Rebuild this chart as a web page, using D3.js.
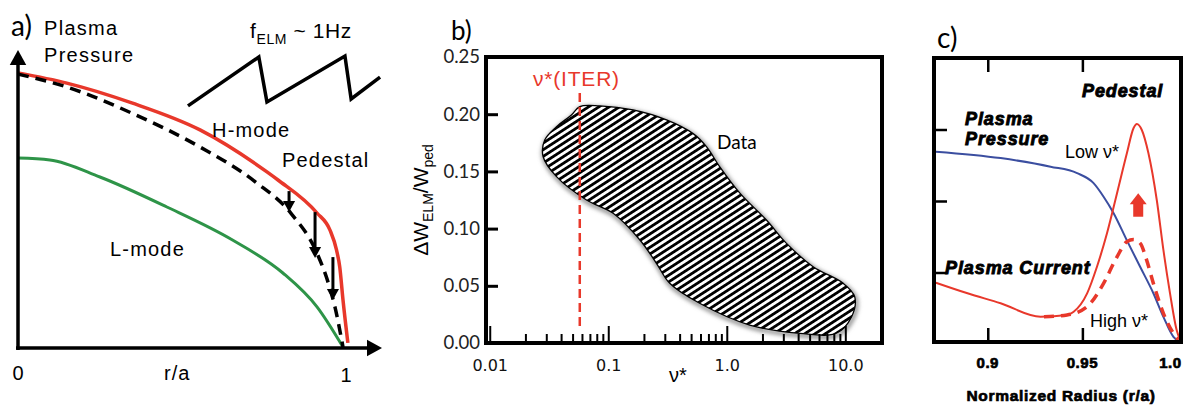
<!DOCTYPE html>
<html>
<head>
<meta charset="utf-8">
<script src="https://cdn.jsdelivr.net/npm/d3@7"></script>
<style>
  body { margin: 0; background: #fff; }
  svg { display: block; }
</style>
</head>
<body>
<div id="chart"></div>
<script>
// ---------- panel a: cartoon pressure profiles (r/a, arbitrary units) ----------
const hModeProfile = [[0, 9.17], [0.15, 8.83], [0.35, 8.17], [0.56, 7.27], [0.766, 5.87], [0.80, 5.6],
  [0.92, 4.5], [0.96, 3.93], [0.98, 3.27], [0.99, 2.7], [1.0, 1.6], [1.015, 0.17]];
const postElmProfile = [[0, 9.13], [0.15, 8.7], [0.35, 7.83], [0.56, 6.7], [0.73, 5.54], [0.84, 4.49],
  [0.92, 3.16], [0.955, 2.16], [0.975, 1.38], [1.0, 0.03]];
const lModeProfile = [[0, 6.33], [0.098, 6.27], [0.252, 5.7], [0.458, 4.7], [0.66, 3.6], [0.815, 2.5],
  [0.92, 1.37], [1.0, 0.03]];
const elmSawtooth = [[0.523, 8.07], [0.741, 9.7], [0.766, 8.2], [1.006, 9.73], [1.025, 8.3], [1.114, 9.03]];
const elmCrashArrows = [[0.834, 5.23, 4.53], [0.914, 4.53, 3.0], [0.969, 3.03, 1.6]];

// ---------- panel b: ELM energy loss vs collisionality ----------
const bYTicks = [0, 0.05, 0.10, 0.15, 0.20, 0.25];
const bXMajor = [0.01, 0.1, 1, 10];
const bXLabels = ["0.01", "0.1", "1.0", "10.0"];
const dataRegion = [[0.0575, 0.2066], [0.0848, 0.2072], [0.162, 0.2037], [0.31, 0.195], [0.52, 0.183],
  [0.674, 0.1716], [0.873, 0.154], [1.29, 0.131], [2.16, 0.1075], [3.19, 0.0871], [5.35, 0.0667],
  [9.6, 0.0522], [12.0, 0.0405], [11.3, 0.023], [8.4, 0.0085], [4.13, 0.0085], [1.56, 0.0157],
  [0.59, 0.0347], [0.33, 0.0522], [0.255, 0.0697], [0.185, 0.09], [0.11, 0.1134], [0.0655, 0.125],
  [0.0366, 0.1454], [0.0282, 0.163], [0.0291, 0.1774], [0.0366, 0.189], [0.0489, 0.1993]];
const iterNu = 0.0575;
const iterRange = [0.014, 0.2185];

// ---------- panel c: pedestal pressure and current ----------
const cXTicks = [0.9, 0.95];
const cXLabels = [[0.9, "0.9"], [0.95, "0.95"], [0.9965, "1.0"]];
const cYTicks = [1, 2, 3];
const pressureProfile = [[0.8726, 2.69], [0.9068, 2.6], [0.9332, 2.48], [0.9472, 2.39], [0.9559, 2.25],
  [0.9612, 2.06], [0.9665, 1.83], [0.9735, 1.45], [0.9805, 1.08], [0.9875, 0.71], [0.9928, 0.38],
  [0.9981, 0.1], [1.0016, 0.03]];
const currentLowNu = [[0.8726, 0.857], [0.8893, 0.709], [0.9068, 0.569], [0.9279, 0.382], [0.9419, 0.406],
  [0.9454, 0.452], [0.9525, 0.709], [0.9577, 1.081], [0.963, 1.548], [0.9683, 2.108], [0.9735, 2.667],
  [0.977, 3.017], [0.9788, 3.077], [0.9814, 2.993], [0.9849, 2.667], [0.9893, 2.014], [0.9928, 1.315],
  [0.9963, 0.709], [0.9998, 0.196], [1.0016, 0.056]];
const currentHighNu = [[0.9297, 0.382], [0.9419, 0.406], [0.9525, 0.522], [0.9612, 0.848], [0.9683, 1.22],
  [0.9735, 1.43], [0.977, 1.46], [0.9805, 1.41], [0.984, 1.17], [0.9875, 0.848], [0.9928, 0.429],
  [0.9981, 0.149], [1.0007, 0.056]];
const rampArrow = [0.9795, 1.78, 2.11];

const RED = "#e8382b", GREEN = "#2e9448", BLUE = "#3b4ea0";
const SANS = "'Liberation Sans', Arial, sans-serif";
const CAL = "Lato, 'Open Sans', sans-serif";

const svg = d3.select("#chart").append("svg")
  .attr("width", 1187).attr("height", 405);

const defs = svg.append("defs");
const hatch = defs.append("pattern")
  .attr("id", "hatch")
  .attr("patternUnits", "userSpaceOnUse")
  .attr("width", 10).attr("height", 5.6)
  .attr("patternTransform", "rotate(-33)");
hatch.append("rect").attr("width", 10).attr("height", 5.6).attr("fill", "#fff");
hatch.append("rect").attr("width", 10).attr("height", 2.8).attr("fill", "#000");
defs.append("filter").attr("id", "soft").attr("x", "-10%").attr("y", "-10%").attr("width", "120%").attr("height", "120%")
  .append("feGaussianBlur").attr("stdDeviation", 2.2);

function arrowHead(g, x, y, dir, size, color, half) {
  // triangular head, tip at (x,y); dir: "up", "down", "right"
  const w = half || size * 0.55, l = size;
  let pts;
  if (dir === "up") pts = [[x, y], [x - w, y + l], [x + w, y + l]];
  else if (dir === "down") pts = [[x, y], [x - w, y - l], [x + w, y - l]];
  else pts = [[x, y], [x - l, y - w], [x - l, y + w]];
  g.append("path").attr("d", "M" + pts.join("L") + "Z").attr("fill", color);
}

// ======================= panel a =======================
{
  const g = svg.append("g");
  const x = d3.scaleLinear().domain([0, 1]).range([18, 343]);
  const y = d3.scaleLinear().domain([0, 10]).range([348, 48]);
  const line = d3.line().x(d => x(d[0])).y(d => y(d[1])).curve(d3.curveMonotoneX);

  g.append("path").datum(lModeProfile).attr("d", line)
    .attr("fill", "none").attr("stroke", GREEN).attr("stroke-width", 3);
  g.append("path").datum(hModeProfile).attr("d", line)
    .attr("fill", "none").attr("stroke", RED).attr("stroke-width", 3.5);
  g.append("path").datum(postElmProfile).attr("d", line)
    .attr("fill", "none").attr("stroke", "#000").attr("stroke-width", 3.5)
    .attr("stroke-dasharray", "11,7");

  // ELM crash arrows
  elmCrashArrows.forEach(d => {
    g.append("line").attr("x1", x(d[0])).attr("x2", x(d[0]))
      .attr("y1", y(d[1])).attr("y2", y(d[2]) - 8)
      .attr("stroke", "#000").attr("stroke-width", 3);
    arrowHead(g, x(d[0]), y(d[2]), "down", 11, "#000");
  });

  // sawtooth
  g.append("path").datum(elmSawtooth)
    .attr("d", d3.line().x(d => x(d[0])).y(d => y(d[1])))
    .attr("fill", "none").attr("stroke", "#000").attr("stroke-width", 3.5)
    .attr("stroke-linejoin", "miter");

  // axes with arrows
  g.append("line").attr("x1", x(0)).attr("x2", x(0)).attr("y1", y(0) + 2).attr("y2", 62)
    .attr("stroke", "#000").attr("stroke-width", 3.5);
  arrowHead(g, x(0), 50, "up", 15, "#000");
  g.append("line").attr("x1", x(0) - 2).attr("x2", 370).attr("y1", y(0)).attr("y2", y(0))
    .attr("stroke", "#000").attr("stroke-width", 3.5);
  arrowHead(g, 382, y(0), "right", 15, "#000");

  const t = (txt, tx, ty, size, anchor, ls) => g.append("text").attr("x", tx).attr("y", ty)
    .attr("font-family", SANS).attr("font-size", size).attr("letter-spacing", ls || 0)
    .attr("text-anchor", anchor || "start").text(txt);
  g.append("text").attr("x", 11).attr("y", 36).attr("font-family", CAL).attr("font-size", 28).text("a)");
  t("Plasma", 44, 35, 20, "start", 1.3);
  t("Pressure", 44, 62, 20, "start", 1.3);
  t("H-mode", 212, 137, 20, "start", 1.2);
  t("Pedestal", 282, 167, 20, "start", 1.2);
  t("L-mode", 110, 256, 20, "start", 1.2);
  t("0", x(0), 380, 20, "middle");
  t("r/a", x(0.49), 380, 20, "middle", 1);
  t("1", x(1) + 3, 382, 20, "middle");
  const f = g.append("text").attr("x", 250).attr("y", 38).attr("font-family", SANS).attr("font-size", 21)
    .attr("letter-spacing", 0.6);
  f.append("tspan").text("f");
  f.append("tspan").attr("dy", 6).attr("font-size", 14).text("ELM");
  f.append("tspan").attr("dy", -6).text(" ~ 1Hz");
}

// ======================= panel b =======================
{
  const left = 486, right = 882, top = 57, bottom = 343;
  const g = svg.append("g");
  const x = d3.scaleLog().domain([0.0093, 20.4]).range([left, right]);
  const y = d3.scaleLinear().domain([0, 0.25]).range([bottom, top]);

  // hatched data region
  const blob = d3.line().x(d => x(d[0])).y(d => y(d[1])).curve(d3.curveCatmullRomClosed.alpha(0.5));
  g.append("path").datum(dataRegion).attr("d", blob)
    .attr("fill", "none").attr("stroke", "#888").attr("stroke-width", 4)
    .attr("transform", "translate(1,2)").attr("filter", "url(#soft)");
  g.append("path").datum(dataRegion).attr("d", blob)
    .attr("fill", "url(#hatch)").attr("stroke", "#000").attr("stroke-width", 1.3);

  // ITER line
  g.append("line").attr("x1", x(iterNu)).attr("x2", x(iterNu))
    .attr("y1", y(iterRange[1])).attr("y2", y(iterRange[0]))
    .attr("stroke", RED).attr("stroke-width", 2.5).attr("stroke-dasharray", "9,5");

  // axes
  const yAxis = g.append("g").attr("transform", `translate(${left},0)`)
    .call(d3.axisLeft(y).tickValues(bYTicks).tickSize(-12).tickPadding(6).tickFormat(d3.format(".2f")));
  yAxis.select(".domain").remove();
  yAxis.selectAll("line").attr("stroke-width", 3);
  yAxis.selectAll("text").attr("font-family", CAL).attr("font-size", 18.5).attr("fill", "#222");

  const minor = [];
  [0.01, 0.1, 1].forEach(dec => { for (let k = 2; k <= 9; k++) minor.push(dec * k); });
  const xMinor = g.append("g").attr("transform", `translate(0,${bottom})`)
    .call(d3.axisBottom(x).tickValues(minor).tickSize(-9).tickFormat(""));
  xMinor.select(".domain").remove();
  xMinor.selectAll("line").attr("stroke-width", 2);
  const xAxis = g.append("g").attr("transform", `translate(0,${bottom})`)
    .call(d3.axisBottom(x).tickValues(bXMajor).tickSize(-17).tickPadding(17)
      .tickFormat((d, i) => bXLabels[i]));
  xAxis.select(".domain").remove();
  xAxis.selectAll("line").attr("stroke-width", 2);
  xAxis.selectAll("text").attr("font-family", "'DejaVu Sans', sans-serif").attr("font-size", 16).attr("fill", "#111");

  g.append("rect").attr("x", left).attr("y", top).attr("width", right - left).attr("height", bottom - top)
    .attr("fill", "none").attr("stroke", "#000").attr("stroke-width", 4);

  g.append("text").attr("x", 451).attr("y", 40).attr("font-family", CAL).attr("font-size", 26).text("b)");
  g.append("text").attr("x", 533).attr("y", 86).attr("font-family", SANS).attr("font-size", 21)
    .attr("letter-spacing", 0.8).attr("fill", RED).text("ν*(ITER)");
  g.append("text").attr("x", 717).attr("y", 149).attr("font-family", CAL).attr("font-size", 19).text("Data");
  g.append("text").attr("x", 678).attr("y", 382).attr("font-family", SANS).attr("font-size", 20)
    .attr("text-anchor", "middle").text("ν*");
  const yl = g.append("text").attr("transform", "translate(428,200) rotate(-90)")
    .attr("text-anchor", "middle").attr("font-family", SANS).attr("font-size", 21);
  yl.append("tspan").text("ΔW");
  yl.append("tspan").attr("dy", 5).attr("font-size", 14).text("ELM");
  yl.append("tspan").attr("dy", -5).text("/W");
  yl.append("tspan").attr("dy", 5).attr("font-size", 14).text("ped");
}

// ======================= panel c =======================
{
  const left = 934, right = 1181, top = 58, bottom = 342;
  const g = svg.append("g");
  const x = d3.scaleLinear().domain([0.8716, 1.0021]).range([left, right]);
  const y = d3.scaleLinear().domain([0, 4]).range([344, 58]);
  const line = d3.line().x(d => x(d[0])).y(d => y(d[1])).curve(d3.curveMonotoneX);

  const clip = defs.append("clipPath").attr("id", "clipc");
  clip.append("rect").attr("x", left).attr("y", top).attr("width", right - left).attr("height", bottom - top);
  const plot = g.append("g").attr("clip-path", "url(#clipc)");

  plot.append("path").datum(pressureProfile).attr("d", line)
    .attr("fill", "none").attr("stroke", BLUE).attr("stroke-width", 2);
  plot.append("path").datum(currentHighNu).attr("d", line)
    .attr("fill", "none").attr("stroke", RED).attr("stroke-width", 3.5).attr("stroke-dasharray", "10,7");
  plot.append("path").datum(currentLowNu).attr("d", line)
    .attr("fill", "none").attr("stroke", RED).attr("stroke-width", 2);

  // red arrow (current rises as collisionality drops)
  const ax = x(rampArrow[0]);
  g.append("rect").attr("x", ax - 5).attr("y", y(rampArrow[2]) + 10)
    .attr("width", 10).attr("height", y(rampArrow[1]) - y(rampArrow[2]) - 10).attr("fill", RED);
  arrowHead(g, ax, y(rampArrow[2]), "up", 11, RED, 8.5);

  const tickStyle = sel => { sel.select(".domain").remove(); sel.selectAll("line").attr("stroke-width", 2.5); };
  g.append("g").attr("transform", `translate(0,${bottom})`)
    .call(d3.axisBottom(x).tickValues(cXTicks).tickSize(-14).tickFormat("")).call(tickStyle);
  g.append("g").attr("transform", `translate(0,${top})`)
    .call(d3.axisTop(x).tickValues(cXTicks).tickSize(-14).tickFormat("")).call(tickStyle);
  g.append("g").attr("transform", `translate(${left},0)`)
    .call(d3.axisLeft(y).tickValues(cYTicks).tickSize(-13).tickFormat("")).call(tickStyle);

  g.append("g").selectAll("text").data(cXLabels).join("text")
    .attr("x", d => x(d[0])).attr("y", 368).attr("text-anchor", "middle")
    .attr("font-family", SANS).attr("font-weight", "bold").attr("font-size", 15)
    .attr("letter-spacing", 0.5).attr("stroke", "#000").attr("stroke-width", 0.7).text(d => d[1]);

  g.append("rect").attr("x", left).attr("y", top).attr("width", right - left).attr("height", bottom - top)
    .attr("fill", "none").attr("stroke", "#000").attr("stroke-width", 4);

  g.append("text").attr("x", 937).attr("y", 48).attr("font-family", CAL).attr("font-size", 28).text("c)");
  const bi = (txt, tx, ty) => g.append("text").attr("x", tx).attr("y", ty)
    .attr("font-family", SANS).attr("font-weight", "bold").attr("font-style", "italic")
    .attr("font-size", 18).attr("letter-spacing", 0.9)
    .attr("stroke", "#000").attr("stroke-width", 0.9).text(txt);
  bi("Pedestal", 1082, 97);
  bi("Plasma", 965, 125);
  bi("Pressure", 965, 145);
  bi("Plasma Current", 945, 274);
  g.append("text").attr("x", 1065).attr("y", 158).attr("font-family", SANS).attr("font-size", 18).text("Low ν*");
  g.append("text").attr("x", 1090).attr("y", 327).attr("font-family", SANS).attr("font-size", 18).text("High ν*");
  g.append("text").attr("x", 1061).attr("y", 401).attr("text-anchor", "middle")
    .attr("font-family", SANS).attr("font-weight", "bold").attr("font-size", 15.5)
    .attr("letter-spacing", 0.7).attr("stroke", "#000").attr("stroke-width", 0.7).text("Normalized Radius (r/a)");
}
</script>
</body>
</html>
